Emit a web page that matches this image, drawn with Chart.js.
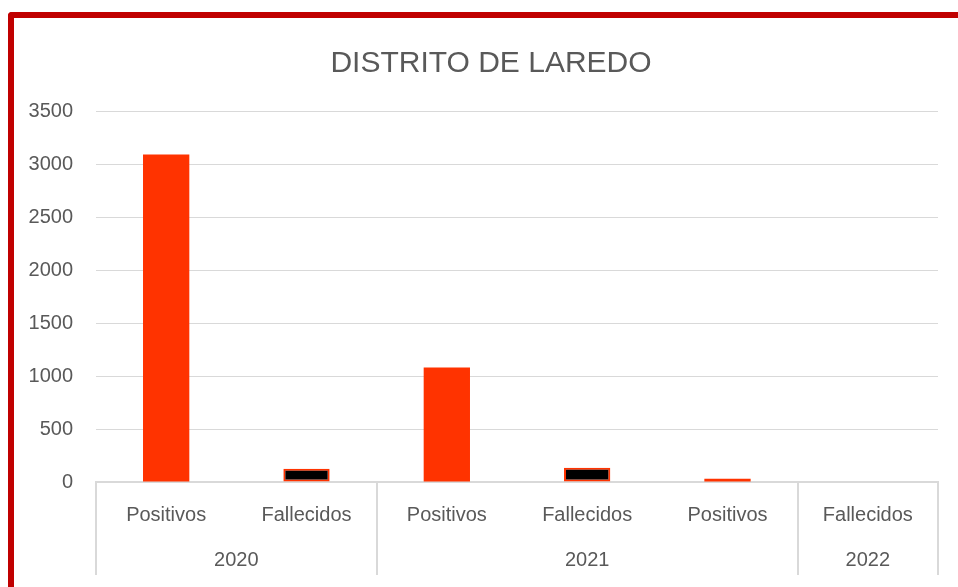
<!DOCTYPE html>
<html>
<head>
<meta charset="utf-8">
<script src="https://cdn.jsdelivr.net/npm/chart.js@4"></script>
<style>
  html, body { margin: 0; padding: 0; background: #fff; overflow: hidden; }
  #wrap { position: relative; width: 958px; height: 587px; }
  #frame {
    position: absolute; left: 8px; top: 12px; width: 2000px; height: 2000px;
    border-left: 6px solid #c00000; border-top: 6px solid #c00000;
    border-top-left-radius: 4px;
  }
  #chartjs-0 { position: absolute; left: 0; top: 0; }
</style>
</head>
<body>
<div id="wrap">
  <div id="frame"></div>
  <canvas id="chartjs-0" width="958" height="587"></canvas>
</div>
<script>
var categories = ["Positivos", "Fallecidos", "Positivos", "Fallecidos", "Positivos", "Fallecidos"];
var values = [3090, 125, 1080, 135, 30, 0];
var groupLabels = ["2020", "2021", "2022"];
var groupSpans = [2, 3, 1];
var yTicks = [0, 500, 1000, 1500, 2000, 2500, 3000, 3500];

var textColor = "#595959";
var gridColor = "#d9d9d9";
var orange = "#ff3300";

// year row under the category labels
var groupAxis = {
    id: "groupAxis",
    afterDraw: function (chart) {
        var ctx = chart.ctx;
        var x = chart.scales.x;
        var top = chart.chartArea.bottom;
        var bottom = 575;
        var edges = [x.left];
        var idx = 0;
        groupSpans.forEach(function (span) {
            idx += span;
            if (idx < categories.length) {
                edges.push((x.getPixelForValue(idx - 1) + x.getPixelForValue(idx)) / 2);
            } else {
                edges.push(x.right);
            }
        });
        ctx.save();
        ctx.strokeStyle = gridColor;
        ctx.lineWidth = 2;
        edges.forEach(function (e) {
            ctx.beginPath();
            ctx.moveTo(Math.round(e), top);
            ctx.lineTo(Math.round(e), bottom);
            ctx.stroke();
        });
        ctx.fillStyle = textColor;
        ctx.font = "20px 'Liberation Sans'";
        ctx.textAlign = "center";
        ctx.textBaseline = "middle";
        groupLabels.forEach(function (lab, g) {
            ctx.fillText(lab, (edges[g] + edges[g + 1]) / 2, 560);
        });
        ctx.restore();
    }
};

var barChart = new Chart(document.getElementById("chartjs-0"), {
    type: "bar",
    data: {
        labels: categories,
        datasets: [{
            label: "Laredo",
            data: values,
            backgroundColor: categories.map(function (c) { return c === "Positivos" ? orange : "#000000"; }),
            borderColor: orange,
            borderWidth: categories.map(function (c) { return c === "Positivos" ? 0 : 2; }),
            borderSkipped: false,
            barPercentage: 1,
            categoryPercentage: 0.33
        }]
    },
    options: {
        responsive: false,
        animation: false,
        layout: { padding: { left: 24, right: 0, top: 0, bottom: 0 } },
        plugins: {
            legend: { display: false },
            tooltip: { enabled: false },
            title: {
                display: true,
                text: "DISTRITO DE LAREDO",
                color: textColor,
                font: { family: "'Liberation Sans'", size: 30, weight: "normal" },
                padding: { top: 46, bottom: 29 }
            }
        },
        scales: {
            x: {
                grid: { display: false, drawTicks: false },
                border: { display: true, color: gridColor, width: 2 },
                ticks: {
                    color: textColor,
                    font: { family: "'Liberation Sans'", size: 20 },
                    padding: 21,
                    maxRotation: 0
                },
                afterFit: function (s) { s.height = 105; }
            },
            y: {
                min: 0,
                max: 3500,
                afterBuildTicks: function (s) { s.ticks = yTicks.map(function (v) { return { value: v }; }); },
                grid: { color: gridColor, lineWidth: 1, drawTicks: false },
                border: { display: false },
                ticks: {
                    color: textColor,
                    font: { family: "'Liberation Sans'", size: 20 },
                    padding: 23,
                    callback: function (v) { return String(v); }
                },
                afterFit: function (s) { s.width = 72; }
            },
            yRight: {
                position: "right",
                display: true,
                grid: { drawOnChartArea: false, drawTicks: false },
                border: { display: false },
                ticks: { display: false },
                afterFit: function (s) { s.width = 20; }
            }
        }
    },
    plugins: [groupAxis]
});
</script>
</body>
</html>
